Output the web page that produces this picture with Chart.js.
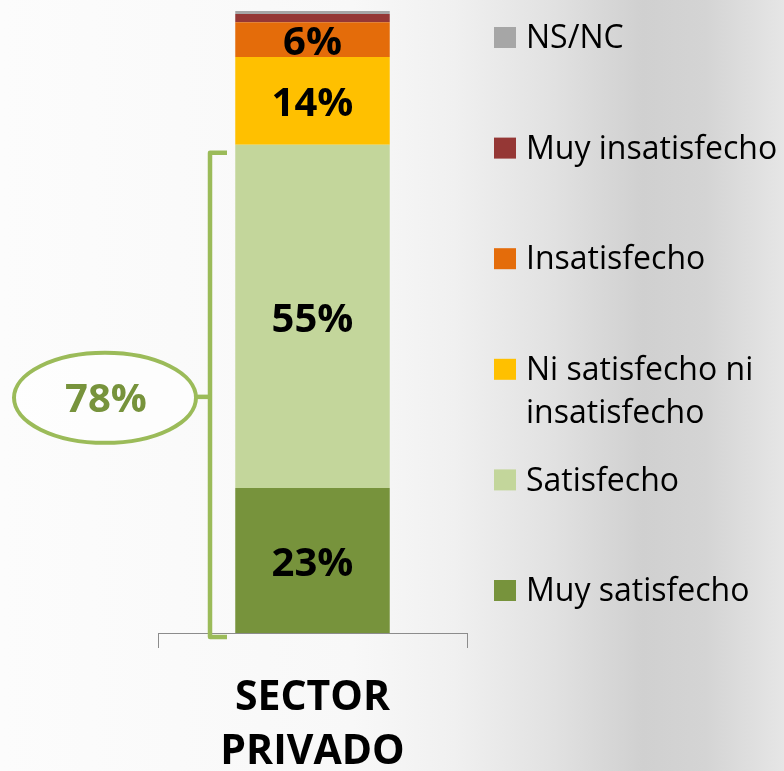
<!DOCTYPE html>
<html>
<head>
<meta charset="utf-8">
<script src="https://cdn.jsdelivr.net/npm/chart.js@4/dist/chart.umd.min.js"></script>
<style>
  html, body { margin: 0; padding: 0; }
  body {
    width: 784px; height: 771px; overflow: hidden;
    background: linear-gradient(90deg, #fcfcfc 0%, #f8f8f8 45%, #f0f0f0 58%, #e2e2e2 70%, #d0d0d0 82%, #d4d4d4 90%, #e6e6e6 100%);
  }
  #wrap { position: relative; width: 784px; height: 771px; }
</style>
</head>
<body>
<div id="wrap"><canvas id="c" width="784" height="771"></canvas></div>
<script>
// ---- data ----
const categories = [['SECTOR', 'PRIVADO']];
const seriesNames = ['Muy satisfecho', 'Satisfecho', 'Ni satisfecho ni insatisfecho', 'Insatisfecho', 'Muy insatisfecho', 'NS/NC'];
const muySatisfecho = [23.3];
const satisfecho = [55.2];
const niSatisfecho = [14.1];
const insatisfecho = [5.6];
const muyInsatisfecho = [1.3];
const nsnc = [0.5];
const bracketLabel = '78%';
const seriesColors = ['#77933C', '#C3D69B', '#FFC000', '#E46C0A', '#953735', '#A6A6A6'];

const seriesValues = [muySatisfecho, satisfecho, niSatisfecho, insatisfecho, muyInsatisfecho, nsnc];

const FONT = '"Open Sans", "Liberation Sans", sans-serif';

const dataLabels = {
  id: 'dataLabels',
  afterDatasetsDraw(chart) {
    const ctx = chart.ctx;
    ctx.save();
    ctx.font = 'bold 40px ' + FONT;
    ctx.fillStyle = '#000';
    ctx.textAlign = 'center';
    ctx.textBaseline = 'middle';
    chart.data.datasets.forEach((ds, i) => {
      const meta = chart.getDatasetMeta(i);
      meta.data.forEach((el, j) => {
        const v = ds.data[j];
        if (v < 5) return;
        const p = el.getCenterPoint();
        ctx.fillText(Math.round(v) + '%', p.x, p.y + 4);
      });
    });
    ctx.restore();
  }
};

const bracket = {
  id: 'bracket',
  afterDraw(chart) {
    const ctx = chart.ctx;
    const y = chart.scales.y;
    const top = y.getPixelForValue(muySatisfecho[0] + satisfecho[0]) + 8;
    const bottom = y.getPixelForValue(0) + 4;
    const bx = 210, serif = 17;
    const mid = (top + bottom) / 2;
    ctx.save();
    ctx.strokeStyle = '#9BBB59';
    ctx.lineWidth = 4.5;
    ctx.lineJoin = 'round';
    ctx.beginPath();
    ctx.moveTo(bx + serif, top);
    ctx.lineTo(bx, top);
    ctx.lineTo(bx, bottom);
    ctx.lineTo(bx + serif, bottom);
    ctx.stroke();
    ctx.beginPath();
    ctx.moveTo(bx, mid + 2);
    ctx.lineTo(196, mid + 2);
    ctx.stroke();
    ctx.beginPath();
    ctx.ellipse(105, mid + 3, 91, 45, 0, 0, Math.PI * 2);
    ctx.fillStyle = 'rgba(255,255,255,0.6)';
    ctx.fill();
    ctx.lineWidth = 4;
    ctx.stroke();
    ctx.font = 'bold 40px ' + FONT;
    ctx.fillStyle = '#77933C';
    ctx.textAlign = 'center';
    ctx.textBaseline = 'middle';
    ctx.fillText(bracketLabel, 106, mid + 6);
    ctx.restore();
  }
};

const sideLegend = {
  id: 'sideLegend',
  afterDraw(chart) {
    const ctx = chart.ctx;
    ctx.save();
    ctx.font = '32px ' + FONT;
    ctx.textBaseline = 'middle';
    ctx.textAlign = 'left';
    const n = chart.data.datasets.length;
    for (let k = 0; k < n; k++) {
      const i = n - 1 - k;
      const ds = chart.data.datasets[i];
      const yc = 38 + k * 110.6;
      ctx.fillStyle = ds.backgroundColor;
      ctx.fillRect(494, yc - 11, 22, 21);
      ctx.fillStyle = '#000';
      const words = ds.label.split(' ');
      const lines = [];
      let cur = '';
      words.forEach(w => {
        const t = cur ? cur + ' ' + w : w;
        if (ctx.measureText(t).width > 256 && cur) { lines.push(cur); cur = w; }
        else cur = t;
      });
      lines.push(cur);
      lines.forEach((ln, li) => ctx.fillText(ln, 526, yc + 1 + li * 43));
    }
    ctx.restore();
  }
};

new Chart(document.getElementById('c'), {
  type: 'bar',
  data: {
    labels: categories,
    datasets: seriesNames.map((name, i) => ({
      label: name,
      data: seriesValues[i],
      backgroundColor: seriesColors[i],
      borderWidth: 0,
      barPercentage: 0.5,
      categoryPercentage: 1.0
    }))
  },
  options: {
    responsive: false,
    animation: false,
    events: [],
    layout: { padding: { left: 158, right: 317, top: 11, bottom: 0 } },
    plugins: { legend: { display: false }, tooltip: { enabled: false } },
    scales: {
      x: {
        stacked: true,
        afterFit: s => { s.height = 138; },
        border: { display: true, color: '#8c8c8c', width: 1 },
        grid: { display: true, offset: true, drawOnChartArea: false, drawTicks: true, tickLength: 15, color: '#8c8c8c' },
        ticks: { color: '#000', padding: 23, font: { family: FONT, size: 41, weight: 'bold', lineHeight: 54 / 41 } }
      },
      y: {
        stacked: true,
        display: false,
        min: 0,
        max: 100
      }
    }
  },
  plugins: [dataLabels, bracket, sideLegend]
});
</script>
</body>
</html>
